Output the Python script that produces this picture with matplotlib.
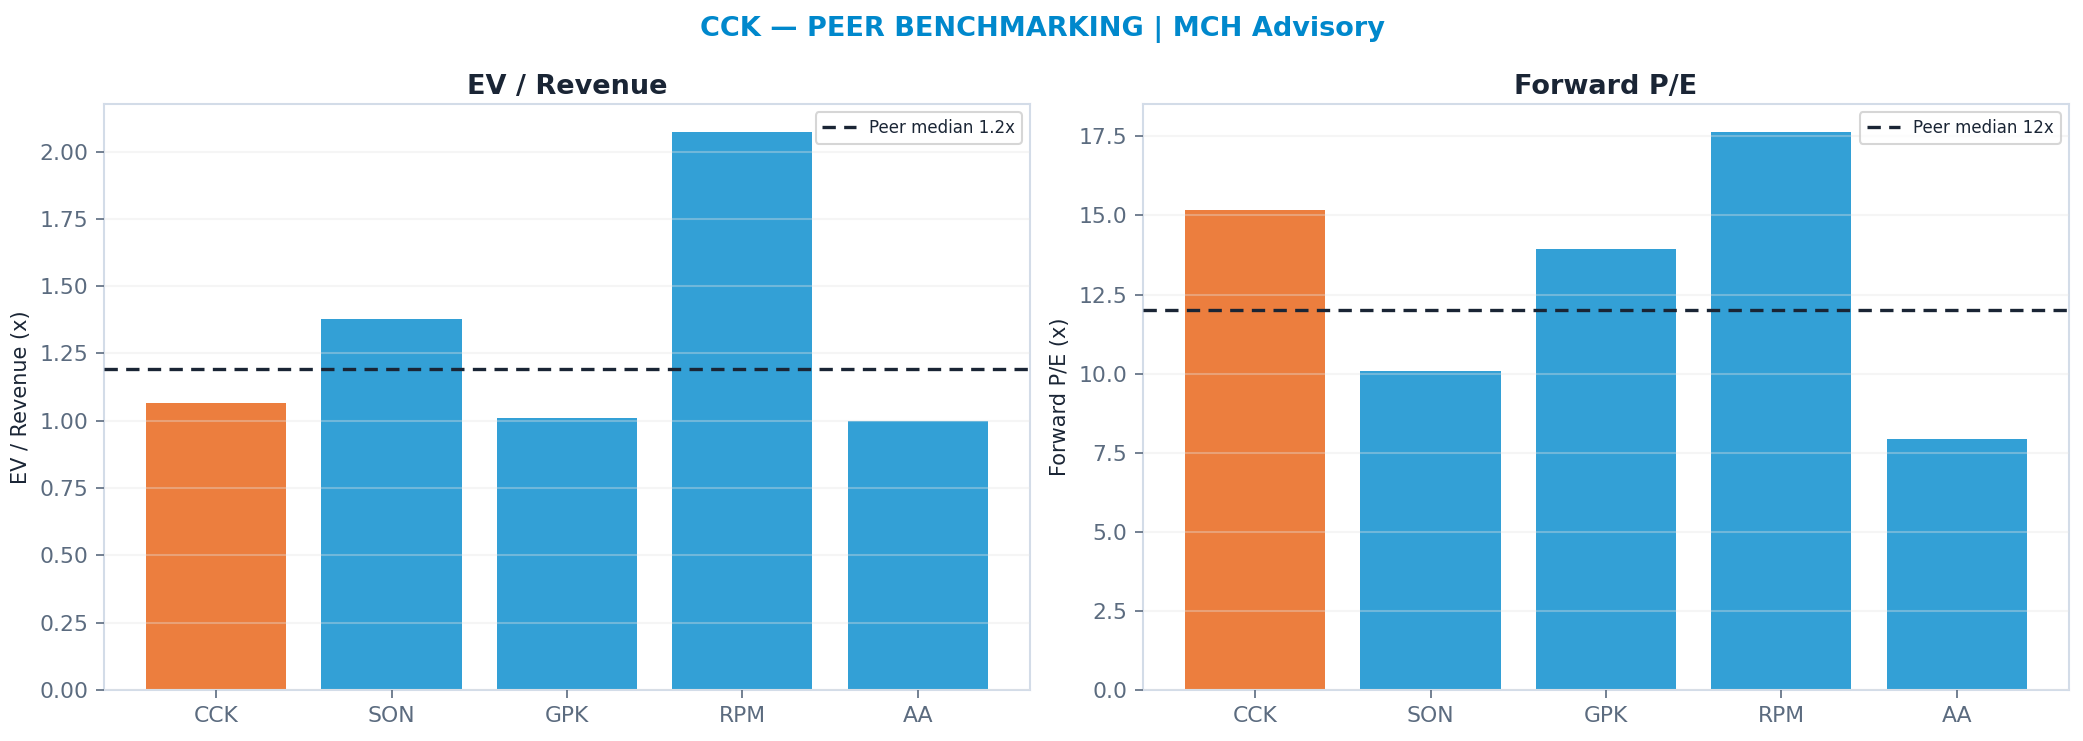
import numpy as np
import matplotlib
matplotlib.use("Agg")
import matplotlib.pyplot as plt

plt.rcParams.update({
    "font.family": "DejaVu Sans",
    "font.size": 10,
    "axes.spines.top": True,
    "axes.spines.right": True,
})

# ── data ──────────────────────────────────────────────────────────────────────
tickers = ["CCK", "SON", "GPK", "RPM", "AA"]
ev_revenue = [1.066, 1.378, 1.010, 2.073, 1.000]
forward_pe = [15.18, 10.09, 13.94, 17.64, 7.92]
subject = "CCK"

TITLE_BLUE = "#0088CC"
DARK = "#1A2535"
GRAY_TXT = "#5B6B7F"
SPINE = "#D3DCE8"
ORANGE = "#E85E0E"


def draw_panel(ax, values, title, ylabel, fmt):
    colors = [ORANGE if t == subject else TITLE_BLUE for t in tickers]
    ax.bar(tickers, values, width=0.8, color=colors, alpha=0.8, zorder=1)
    peers = [v for t, v in zip(tickers, values) if t != subject]
    med = np.median(peers)
    ax.axhline(med, color=DARK, linestyle="--", linewidth=1.6, dashes=(4, 2.5),
               label=f"Peer median {med:{fmt}}x", zorder=3)
    ax.set_axisbelow(False)
    ax.grid(axis="y", color="#e4e4e4", alpha=0.35, linewidth=1.0, zorder=2)
    ax.set_title(title, fontsize=13, fontweight="bold", color=DARK, pad=5)
    ax.set_ylabel(ylabel, fontsize=10, color=DARK)
    ax.tick_params(colors=GRAY_TXT, labelsize=10.5, length=4)
    for s in ax.spines.values():
        s.set_color(SPINE)
        s.set_linewidth(1.0)
    leg = ax.legend(loc="upper right", fontsize=8, frameon=True, fancybox=True,
                    handlelength=2.0, borderpad=0.4)
    leg.get_frame().set_edgecolor("#CCCCCC")
    for txt in leg.get_texts():
        txt.set_color(DARK)


fig = plt.figure(figsize=(13.893, 4.94), dpi=150)
ax1 = fig.add_axes([0.0499, 0.0688, 0.4443, 0.7909])
ax2 = fig.add_axes([0.5485, 0.0688, 0.4443, 0.7909])

draw_panel(ax1, ev_revenue, "EV / Revenue", "EV / Revenue (x)", ".1f")
draw_panel(ax2, forward_pe, "Forward P/E", "Forward P/E (x)", ".0f")

fig.suptitle("CCK — PEER BENCHMARKING | MCH Advisory", fontsize=13,
             fontweight="bold", color=TITLE_BLUE, y=0.978)

fig.savefig("out.png", dpi=150)
